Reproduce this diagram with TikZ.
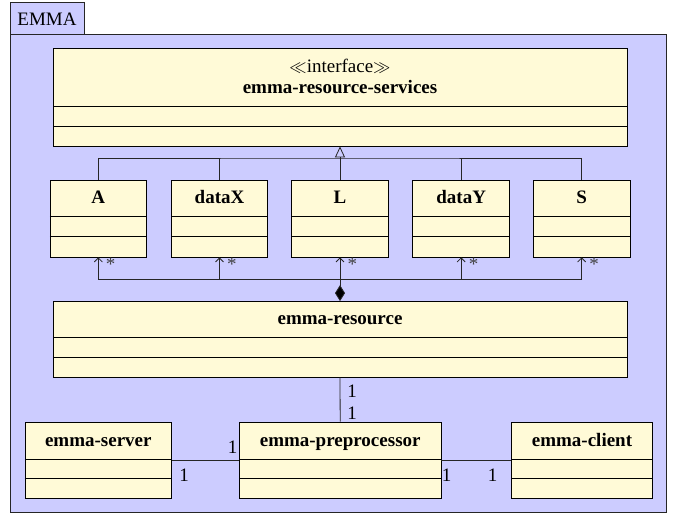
\documentclass[tikz,border=0pt]{standalone}
\usepackage{fontspec}
\setmainfont{Liberation Serif}
\usetikzlibrary{arrows.meta}
\definecolor{pkgfill}{RGB}{204,204,255}
\definecolor{clsfill}{RGB}{255,250,215}
\newcommand\umlbox[7]{%
  \node[cls, minimum width=#4, minimum height={#7-#3}] (#1) at (#2,{(#3+#7)/2}) {};
  \draw[sepline] ({#2-#4/2},#5) -- ({#2+#4/2},#5);
  \draw[sepline] ({#2-#4/2},#6) -- ({#2+#4/2},#6);
}
\begin{document}
\begin{tikzpicture}[x=1pt,y=-1pt,
  font=\fontsize{19}{22}\selectfont,
  cls/.style={draw=black, fill=clsfill, line width=0.8pt, rectangle, inner sep=0pt},
  sepline/.style={line width=0.8pt},
  pkg/.style={draw=black!85, fill=pkgfill, line width=0.8pt},
  title/.style={anchor=base, inner sep=0pt, font=\fontsize{19}{22}\selectfont\bfseries},
  lbl/.style={anchor=base, inner sep=0pt},
  conn/.style={draw=black!85, line width=0.8pt},
  gen/.style={conn, -{Triangle[open, length=11pt, width=10pt]}},
  nav/.style={conn, -{Straight Barb[length=4pt, width=8pt]}},
  comp/.style={conn, -{Diamond[length=16pt, width=10pt, fill=black]}}]
\useasboundingbox (0,0) rectangle (681,514);
% package
\node[pkg, rectangle, inner sep=0pt, minimum width=74, minimum height=32] (tab) at (47,18) {};
\node[lbl] (tabtext) at (47,26) {EMMA};
\node[pkg, rectangle, inner sep=0pt, minimum width=656.5, minimum height=478] (pkgbody) at (338.25,273) {};
% interface
\umlbox{ifc}{340}{48.5}{574}{106}{126}{146}
\node[lbl] (ifcster) at (340,72) {$\ll$interface$\gg$};
\node[title] (ifcname) at (340,93) {emma-resource-services};
% small classes
\umlbox{A}{98.3}{180}{96.7}{216.7}{236.7}{257}
\umlbox{dataX}{219.5}{180}{96.7}{216.7}{236.7}{257}
\umlbox{L}{340}{180}{96.7}{216.7}{236.7}{257}
\umlbox{dataY}{461.2}{180}{96.7}{216.7}{236.7}{257}
\umlbox{S}{581.7}{180}{96.7}{216.7}{236.7}{257}
\node[title] (At) at (98.3,203.5) {A};
\node[title] (dataXt) at (219.5,203.5) {dataX};
\node[title] (Lt) at (340,203.5) {L};
\node[title] (dataYt) at (461.2,203.5) {dataY};
\node[title] (St) at (581.7,203.5) {S};
% resource
\umlbox{res}{340}{301.5}{574}{337.7}{357}{377}
\node[title] (rest) at (340,324) {emma-resource};
% bottom row
\umlbox{server}{98.3}{422}{146.7}{459}{478.5}{498}
\umlbox{pre}{340.2}{422}{201.7}{459}{478.5}{498}
\umlbox{client}{582}{422}{140.7}{459}{478.5}{498}
\node[title] (servert) at (98.3,446) {emma-server};
\node[title] (pret) at (340.2,446) {emma-preprocessor};
\node[title] (clientt) at (582,446) {emma-client};
% generalization
\coordinate (gbar) at (340,158);
\draw[conn] (A.north) |- (gbar) -| (S.north);
\draw[conn] (dataX.north) -- (dataX.north |- gbar);
\draw[conn] (dataY.north) -- (dataY.north |- gbar);
\draw[gen] (L.north) -- (ifc.south);
% composition / navigation
\coordinate (cbar) at (340,279);
\draw[conn] (A.south |- cbar) -- (S.south |- cbar);
\draw[nav] (A.south |- cbar) -- (A.south);
\draw[nav] (dataX.south |- cbar) -- (dataX.south);
\draw[nav] (L.south |- cbar) -- (L.south);
\draw[nav] (dataY.south |- cbar) -- (dataY.south);
\draw[nav] (S.south |- cbar) -- (S.south);
\draw[comp] (cbar) -- (res.north);
\node[lbl, text=black!75] (mA) at (110.6,270) {*};
\node[lbl, text=black!75] (mX) at (231.8,270) {*};
\node[lbl, text=black!75] (mL) at (352.3,270) {*};
\node[lbl, text=black!75] (mY) at (473.5,270) {*};
\node[lbl, text=black!75] (mS) at (594,270) {*};
% associations
\draw[conn] (res.south) -- (pre.north);
\node[lbl] (r1) at (352,397) {1};
\node[lbl] (p1) at (352,419.5) {1};
\draw[conn] (server.east) -- (pre.west);
\draw[conn] (pre.east) -- (client.west);
\node[lbl] (ps1) at (232.7,453.3) {1};
\node[lbl] (s1) at (184,481.7) {1};
\node[lbl] (pc1) at (446.7,481.7) {1};
\node[lbl] (c1) at (492.7,481.7) {1};
\end{tikzpicture}
\end{document}
